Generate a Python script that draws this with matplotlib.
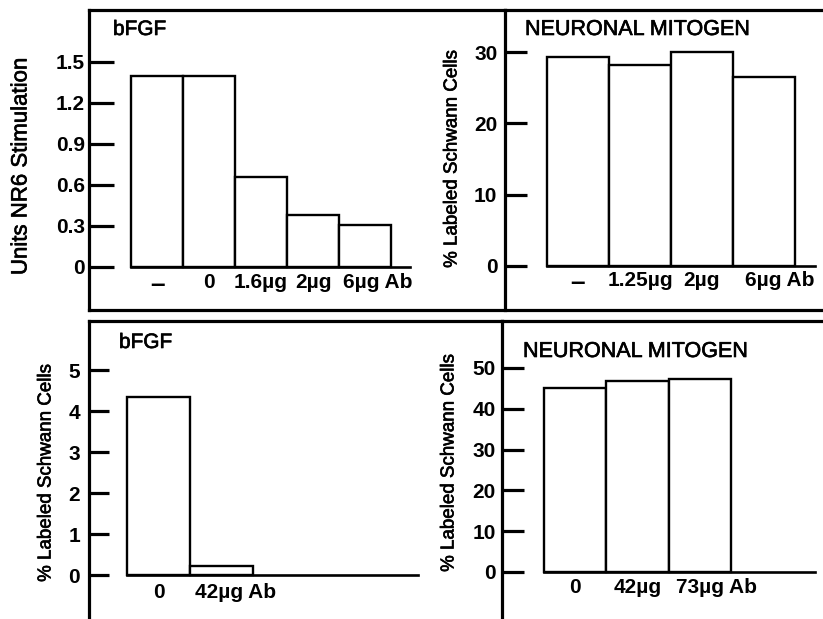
import matplotlib
matplotlib.use('Agg')
import matplotlib.pyplot as plt
from matplotlib.lines import Line2D
from matplotlib.transforms import ScaledTranslation
import matplotlib.patheffects as pe
import numpy as np

plt.rcParams['font.family'] = ['Liberation Sans', 'DejaVu Sans']

# ---------------- data ----------------
tl_cats = ['–', '0', '1.6µg', '2µg', '6µg Ab']
tl_vals = [1.40, 1.40, 0.66, 0.38, 0.31]
tl_yticks = [0, 0.3, 0.6, 0.9, 1.2, 1.5]
tl_yticklabels = ['0', '0.3', '0.6', '0.9', '1.2', '1.5']

tr_cats = ['–', '1.25µg', '2µg', '6µg Ab']
tr_vals = [29.3, 28.2, 30.0, 26.5]
tr_yticks = [0, 10, 20, 30]
tr_yticklabels = ['0', '10', '20', '30']

bl_cats = ['0', '42µg Ab']
bl_vals = [4.35, 0.22]
bl_yticks = [0, 1, 2, 3, 4, 5]
bl_yticklabels = ['0', '1', '2', '3', '4', '5']

br_cats = ['0', '42µg', '73µg Ab']
br_vals = [45.1, 46.7, 47.3]
br_yticks = [0, 10, 20, 30, 40, 50]
br_yticklabels = ['0', '10', '20', '30', '40', '50']

titles = ['bFGF', 'NEURONAL MITOGEN', 'bFGF', 'NEURONAL MITOGEN']
ylabels = ['Units NR6 Stimulation', '% Labeled Schwann Cells',
           '% Labeled Schwann Cells', '% Labeled Schwann Cells']

# ---------------- layout ----------------
W, H = 823, 619
DPI = 100
fig = plt.figure(figsize=(W / DPI, H / DPI), dpi=DPI)
fig.patch.set_facecolor('white')
heavy = [pe.withStroke(linewidth=0.45, foreground='black')]


def rect(l, r, t, b):
    return [l / W, 1 - b / H, (r - l) / W, (b - t) / H]


panels = [
    dict(cats=tl_cats, vals=tl_vals, yt=tl_yticks, ytl=tl_yticklabels,
         rect=rect(89, 505, 10, 310), xlim=(-1.308, 6.692), ylim=(-0.315, 1.88),
         base_end=4.865, tlen=18, ypad=3, xpad=4.5, dx=13,
         ylab=(21, 166, 16), title=(113, 35)),
    dict(cats=tr_cats, vals=tr_vals, yt=tr_yticks, ytl=tr_yticklabels,
         rect=rect(505, 830, 10, 310), xlim=(-1.177, 4.065), ylim=(-6.17, 35.89),
         base_end=3.82, tlen=16, ypad=5.5, xpad=3.4, dx=16,
         ylab=(452, 159, 13.5), title=(525, 35)),
    dict(cats=bl_cats, vals=bl_vals, yt=bl_yticks, ytl=bl_yticklabels,
         rect=rect(89, 502, 321, 640), xlim=(-1.103, 5.452), ylim=(-1.585, 6.2),
         base_end=4.12, tlen=14.4, ypad=6.5, xpad=5.5, dx=14.5,
         ylab=(46, 473, 13.5), title=(119, 348)),
    dict(cats=br_cats, vals=br_vals, yt=br_yticks, ytl=br_yticklabels,
         rect=rect(502, 830, 321, 640), xlim=(-1.174, 4.09), ylim=(-16.67, 61.5),
         base_end=3.85, tlen=16, ypad=4.5, xpad=4.2, dx=16.5,
         ylab=(449, 463, 13.5), title=(523, 357)),
]

for i, p in enumerate(panels):
    ax = fig.add_axes(p['rect'])
    ax.set_facecolor('none')
    x = np.arange(len(p['vals']))
    ax.bar(x, p['vals'], width=1.0, facecolor='white', edgecolor='black',
           linewidth=1.7, zorder=2)
    ax.set_xlim(*p['xlim'])
    ax.set_ylim(*p['ylim'])

    for s in ['left', 'top']:
        ax.spines[s].set_linewidth(2.3)
    ax.spines['right'].set_visible(False)
    ax.spines['bottom'].set_position(('data', 0))
    ax.spines['bottom'].set_bounds(-0.5, p['base_end'])
    ax.spines['bottom'].set_linewidth(1.9)

    ax.set_yticks(p['yt'])
    ax.set_yticklabels(p['ytl'], fontsize=15, fontweight='bold')
    ax.tick_params(axis='y', direction='in', length=p['tlen'], width=2.3,
                   pad=p['ypad'])
    ax.set_xticks(x)
    ax.set_xticklabels(p['cats'], fontsize=15, fontweight='bold')
    ax.tick_params(axis='x', length=0, pad=p['xpad'])
    if p['cats'][0] == '–':
        ax.get_xticklabels()[0].set_fontsize(19)
    lab = ax.get_xticklabels()[-1]
    lab.set_transform(lab.get_transform() +
                      ScaledTranslation(p['dx'] / DPI, 0, fig.dpi_scale_trans))

    lx, ly, lfs = p['ylab']
    fig.text(lx / W, 1 - ly / H, ylabels[i], rotation=90, ha='center',
             va='center', fontsize=lfs, path_effects=heavy)
    tx, ty = p['title']
    fig.text(tx / W, 1 - ty / H, titles[i], ha='left', va='baseline',
             fontsize=15.5 if i % 2 else 15, path_effects=heavy)

# frame line under the top panels
fig.add_artist(Line2D([89 / W, 1.0], [1 - 310 / H, 1 - 310 / H],
                      transform=fig.transFigure, color='black', linewidth=2.3))

fig.savefig('out.png', dpi=DPI, facecolor='white')
